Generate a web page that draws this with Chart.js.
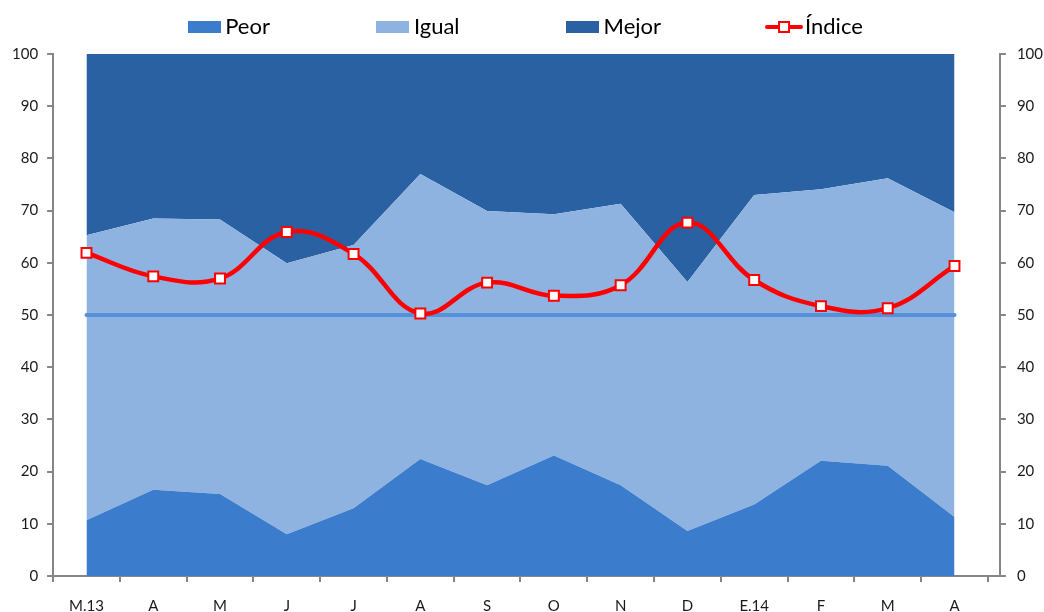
<!DOCTYPE html>
<html>
<head>
<meta charset="utf-8">
<script src="https://cdn.jsdelivr.net/npm/chart.js@4/dist/chart.umd.min.js"></script>
<style>
  html, body { margin: 0; padding: 0; background: #fff; }
  canvas { display: block; }
</style>
</head>
<body>
<canvas id="chart" width="1044" height="612"></canvas>
<script>
// Data
const months = ['M.13', 'A', 'M', 'J', 'J', 'A', 'S', 'O', 'N', 'D', 'E.14', 'F', 'M', 'A'];
const peor   = [10.7, 16.5, 15.7, 8.0, 13.0, 22.4, 17.4, 23.1, 17.4, 8.6, 13.7, 22.1, 21.1, 11.3];
const igual  = [54.6, 52.0, 52.6, 51.9, 50.4, 54.6, 52.5, 46.2, 53.9, 47.7, 59.3, 52.0, 55.1, 58.4];
const mejor  = [34.7, 31.5, 31.7, 40.1, 36.6, 23.0, 30.1, 30.7, 28.7, 43.7, 27.0, 25.9, 23.8, 30.3];
const indice = [61.9, 57.4, 57.0, 65.9, 61.7, 50.3, 56.2, 53.7, 55.7, 67.7, 56.7, 51.7, 51.3, 59.4];
const neutral = 50;

const colors = {
    peor: '#3b7dcc',
    igual: '#8eb3e1',
    mejor: '#2961a3',
    indice: '#ff0000',
    neutral: '#5590d9',
    axis: '#868686',
    text: '#1a1a1a'
};

Chart.defaults.font.family = 'Lato';

const pts = arr => arr.map((v, i) => ({x: i, y: v}));

function swatch(color) {
    const c = document.createElement('canvas');
    c.width = 33; c.height = 12;
    const g = c.getContext('2d');
    g.fillStyle = color;
    g.fillRect(0, 0, 33, 12);
    return c;
}

function lineIcon() {
    const c = document.createElement('canvas');
    c.width = 38; c.height = 14;
    const g = c.getContext('2d');
    g.strokeStyle = colors.indice;
    g.lineWidth = 4;
    g.lineCap = 'round';
    g.beginPath(); g.moveTo(2, 7); g.lineTo(36, 7); g.stroke();
    g.fillStyle = '#fff';
    g.fillRect(14, 2, 10, 10);
    g.lineWidth = 2;
    g.strokeRect(14, 2, 10, 10);
    return c;
}

const icons = [swatch(colors.peor), swatch(colors.igual), swatch(colors.mejor), lineIcon()];

const yAxis = (position, padding, stacked) => ({
    type: 'linear',
    position: position,
    stacked: stacked,
    min: 0,
    max: 100,
    ticks: {stepSize: 10, padding: padding, font: {size: 15}, color: colors.text},
    grid: {drawOnChartArea: false, tickLength: 6, color: colors.axis, lineWidth: 2},
    border: {color: colors.axis, width: 2}
});

new Chart(document.getElementById('chart'), {
    type: 'line',
    data: {
        datasets: [
            {label: 'Peor', data: pts(peor), backgroundColor: colors.peor, borderWidth: 0,
             pointRadius: 0, fill: 'origin', yAxisID: 'y', order: 2},
            {label: 'Igual', data: pts(igual), backgroundColor: colors.igual, borderWidth: 0,
             pointRadius: 0, fill: '-1', yAxisID: 'y', order: 2},
            {label: 'Mejor', data: pts(mejor), backgroundColor: colors.mejor, borderWidth: 0,
             pointRadius: 0, fill: '-1', yAxisID: 'y', order: 2},
            {label: 'Índice', data: pts(indice), yAxisID: 'y2', order: 0, fill: false,
             borderColor: colors.indice, borderWidth: 4.5, tension: 0.4,
             pointStyle: 'rect', pointRadius: 7, pointBorderWidth: 2,
             pointBackgroundColor: '#fff', pointBorderColor: colors.indice},
            {label: 'Neutral', data: pts(months.map(() => neutral)), yAxisID: 'y2', order: 1, fill: false,
             borderColor: colors.neutral, borderWidth: 4, borderCapStyle: 'round', pointRadius: 0}
        ]
    },
    options: {
        responsive: false,
        animation: false,
        events: [],
        layout: {padding: {top: -97, left: 3, right: -10, bottom: -10}},
        plugins: {
            tooltip: {enabled: false},
            title: {display: true, text: '', weight: 500, padding: 0, font: {size: 5, lineHeight: 1.2}},
            legend: {
                position: 'top',
                labels: {
                    font: {size: 22},
                    color: '#000',
                    usePointStyle: true,
                    pointStyleWidth: 20,
                    padding: 113,
                    filter: item => item.datasetIndex < 4,
                    sort: (a, b) => a.datasetIndex - b.datasetIndex,
                    generateLabels: chart => Chart.defaults.plugins.legend.labels.generateLabels(chart)
                        .map(item => Object.assign(item, {pointStyle: icons[item.datasetIndex]}))
                }
            }
        },
        scales: {
            x: {
                type: 'linear', position: 'bottom', min: -0.5, max: 13.68, weight: 1,
                afterBuildTicks: axis => { axis.ticks = months.map((m, i) => ({value: i})); },
                ticks: {autoSkip: false, maxRotation: 0, padding: 7, font: {size: 15}, color: colors.text,
                        callback: v => months[v]},
                grid: {display: false},
                border: {display: false}
            },
            xt: {
                type: 'linear', position: 'bottom', min: -0.5, max: 13.68, weight: 0,
                afterBuildTicks: axis => {
                    axis.ticks = [{value: -0.5}].concat(months.map((m, i) => ({value: i + 0.5})));
                },
                ticks: {display: false},
                grid: {drawOnChartArea: false, tickLength: 6, color: colors.axis, lineWidth: 2},
                border: {color: colors.axis, width: 2}
            },
            y: yAxis('left', 9, true),
            y2: yAxis('right', 11, false)
        }
    }
});
</script>
</body>
</html>
